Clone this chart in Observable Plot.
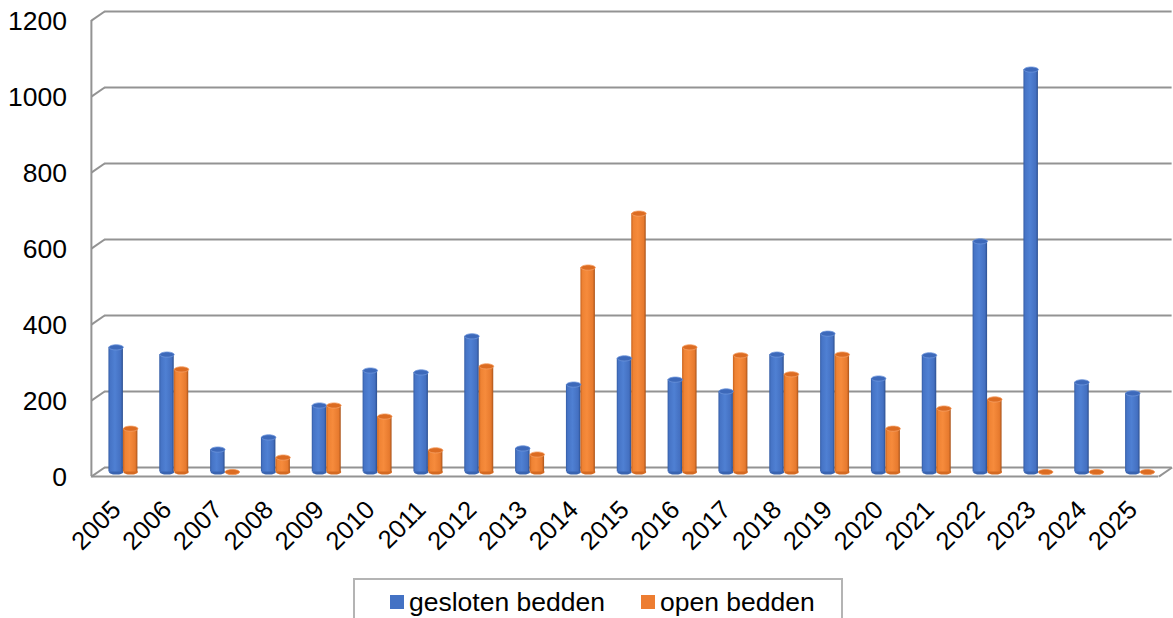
<!DOCTYPE html>
<html>
<head>
<meta charset="utf-8">
<script src="https://cdn.jsdelivr.net/npm/d3@7"></script>
<script src="https://cdn.jsdelivr.net/npm/@observablehq/plot@0.6"></script>
<style>
  html, body { margin: 0; padding: 0; background: #fff; }
  body { width: 1173px; height: 618px; overflow: hidden; position: relative; font-family: "Liberation Sans", Arial, sans-serif; }
  #legend { position: absolute; left: 353px; top: 578px; width: 490px; height: 60px; border: 2px solid #b4b4b4; box-sizing: border-box; background: #fff; }
  .item { position: absolute; top: 7px; font-size: 26.5px; color: #000; white-space: nowrap; line-height: 30px; }
  .sw { display: inline-block; width: 14px; height: 14px; margin-right: 5px; vertical-align: 2px; }
</style>
</head>
<body>
<div id="chart"></div>
<div id="legend"></div>
<script>
// ---- data ----
const years = [2005, 2006, 2007, 2008, 2009, 2010, 2011, 2012, 2013, 2014, 2015,
               2016, 2017, 2018, 2019, 2020, 2021, 2022, 2023, 2024, 2025];
const gesloten = [328, 309, 59, 91, 175, 267, 262, 357, 62, 230, 299,
                  243, 212, 309, 364, 246, 307, 607, 1059, 236, 207];
const open = [114, 270, 0, 38, 175, 146, 57, 278, 46, 538, 680,
              328, 307, 257, 309, 114, 167, 191, 0, 0, 0];
const yTicks = [0, 200, 400, 600, 800, 1000, 1200];
const seriesNames = ["gesloten bedden", "open bedden"];
const seriesColors = ["#4472C4", "#ED7D31"];

// ---- styling constants ----
const k = 0.13;        // perspective shift (in category units)
const depth = 24;      // floor depth (in value units)
const barW = 0.285;    // bar width (in category units)
const grid = "#939393";
const font = "Liberation Sans, Arial, sans-serif";

const rows = [];
years.forEach((year, i) => {
  rows.push({i, year, value: gesloten[i], s: 0});
  rows.push({i, year, value: open[i], s: 1});
});
const x1of = d => d.s === 0 ? d.i - barW : d.i;
const x2of = d => d.s === 0 ? d.i : d.i + barW;
const xc = d => d.s === 0 ? d.i - barW / 2 : d.i + barW / 2;

function ellipse(rx, ry) {
  return {
    draw(ctx) {
      const c = 0.5523;
      ctx.moveTo(rx, 0);
      ctx.bezierCurveTo(rx, c * ry, c * rx, ry, 0, ry);
      ctx.bezierCurveTo(-c * rx, ry, -rx, c * ry, -rx, 0);
      ctx.bezierCurveTo(-rx, -c * ry, -c * rx, -ry, 0, -ry);
      ctx.bezierCurveTo(c * rx, -ry, rx, -c * ry, rx, 0);
      ctx.closePath();
    }
  };
}
const ell = ellipse(7.2, 2.6);

const n = years.length;
const svg = Plot.plot({
  width: 1173,
  height: 578,
  marginTop: 11,
  marginBottom: 111,
  marginLeft: 97.5,
  marginRight: 8,
  style: {fontFamily: font, background: "transparent", overflow: "visible"},
  x: {domain: [-0.5, n - 0.5], axis: null},
  y: {domain: [0, 1200], axis: null},
  marks: [
    // back-wall gridlines
    Plot.ruleY(yTicks, {x1: -0.5 + k, x2: n - 0.5 + k, stroke: grid, strokeWidth: 2}),
    // left slants
    Plot.link(yTicks, {x1: -0.5 - k, y1: v => v - depth, x2: -0.5 + k, y2: v => v, stroke: grid, strokeWidth: 2}),
    // left vertical axis
    Plot.ruleX([-0.5 - k], {y1: -depth, y2: 1200 - depth, stroke: grid, strokeWidth: 2}),
    // floor front edge and right slant
    Plot.ruleY([-depth], {x1: -0.5 - k, x2: n - 0.5 - k, stroke: grid, strokeWidth: 2}),
    Plot.link([0], {x1: n - 0.5 - k, y1: -depth, x2: n - 0.5 + k, y2: 0, stroke: grid, strokeWidth: 2}),
    // cylinder bottoms
    Plot.dot(rows, {x: xc, y: () => 0, symbol: ell, fill: d => d.s === 0 ? "#3a64b0" : "#d46a22", stroke: "none", dy: 4.5}),
    // cylinder bodies
    Plot.rectY(rows, {x1: x1of, x2: x2of, y1: () => 0, y2: "value", fill: d => d.s === 0 ? "url(#gBlue)" : "url(#gOrange)", dy: 4.5}),
    // cylinder tops
    Plot.dot(rows, {x: xc, y: "value", symbol: ell, fill: d => d.s === 0 ? "#3d69ba" : "#dc6c22",
                    stroke: d => d.s === 0 ? "#6d95dc" : "#f5a065", strokeWidth: 0.8, dy: 4.5}),
    // y tick labels
    Plot.text(yTicks, {y: v => v, frameAnchor: "left", dx: -31, dy: 10, text: v => String(v), textAnchor: "end", fontSize: 26.5, fill: "#000"}),
    // x tick labels
    Plot.text(years, {x: (d, i) => i, y: () => 0, text: d => String(d), rotate: -45, textAnchor: "end", dx: -7, dy: 38, fontSize: 25.5, fill: "#000"})
  ]
});

// gradients for cylinder shading
const defs = d3.select(svg).insert("defs", ":first-child");
function grad(id, stops) {
  const g = defs.append("linearGradient").attr("id", id).attr("x1", "0").attr("x2", "1").attr("y1", "0").attr("y2", "0");
  stops.forEach(([o, c]) => g.append("stop").attr("offset", o).attr("stop-color", c));
}
grad("gBlue", [["0", "#345ca4"], ["0.12", "#4674c6"], ["0.45", "#4f80d3"], ["0.85", "#4470c1"], ["1", "#2c4f8f"]]);
grad("gOrange", [["0", "#c9631e"], ["0.15", "#ef8334"], ["0.45", "#f68b3c"], ["0.85", "#e77a2e"], ["1", "#a9531a"]]);

document.getElementById("chart").appendChild(svg);

// legend
const legend = document.getElementById("legend");
const lefts = [35, 286];
seriesNames.forEach((name, j) => {
  const it = document.createElement("div");
  it.className = "item";
  it.style.left = lefts[j] + "px";
  it.innerHTML = `<span class="sw" style="background:${seriesColors[j]}"></span>${name}`;
  legend.appendChild(it);
});
</script>
</body>
</html>
